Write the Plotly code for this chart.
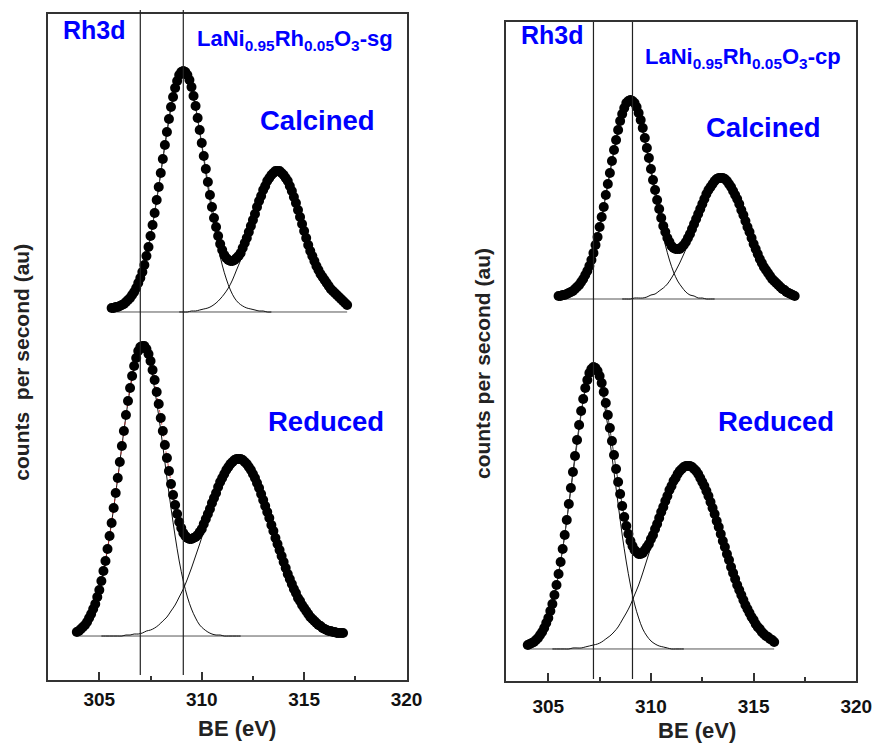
import plotly.graph_objects as go

# ---------------------------------------------------------------------------
# Rh 3d spectra. Each spectrum is stored as its first binding energy (eV) and
# the intensities (counts per second, au) on a uniform energy step.
# ---------------------------------------------------------------------------
DATA_STEP = 0.1   # eV, measured points
FIT_STEP = 0.2    # eV, fitted component curves

# LaNi0.95Rh0.05O3-sg, calcined
sg_calc_be0 = 305.6
sg_calc_counts = [4, 4, 5, 5, 6, 7, 8, 10, 12, 14,
                  17, 20, 24, 29, 34, 40, 47, 56, 65, 76,
                  87, 99, 112, 125, 139, 153, 167, 180, 193, 205,
                  215, 224, 231, 237, 240, 241, 240, 237, 232, 225,
                  216, 206, 194, 182, 169, 156, 143, 130, 117, 105,
                  94, 85, 76, 68, 62, 57, 54, 52, 51, 51,
                  52, 54, 56, 59, 64, 69, 74, 80, 86, 92,
                  98, 105, 111, 116, 122, 126, 131, 134, 137, 139,
                  141, 141, 141, 139, 137, 134, 131, 126, 121, 115,
                  109, 102, 95, 88, 81, 74, 67, 61, 56, 51,
                  46, 42, 38, 35, 32, 29, 26, 23, 21, 19,
                  17, 15, 13, 11, 9, 7]
sg_calc_p1_be0 = 305.6
sg_calc_p1 = [4, 5, 6, 8, 12, 17, 24, 34, 47, 65, 87, 112, 139, 167, 193, 215,
              231, 240, 240, 231, 215, 193, 167, 139, 112, 87, 65, 47, 33, 22,
              14, 9, 6, 4, 3, 2, 1, 1, 0, 0]
sg_calc_p2_be0 = 308.9
sg_calc_p2 = [0, 0, 0, 1, 1, 2, 3, 4, 6, 9, 13, 18, 24, 32, 42, 52, 65, 78, 91,
              104, 116, 126, 134, 139, 141, 139, 134, 126, 115, 102, 88, 74, 61,
              51, 42, 35, 29, 23, 19, 15, 11, 7]

# LaNi0.95Rh0.05O3-sg, reduced
sg_red_be0 = 303.9
sg_red_counts = [4, 5, 7, 9, 11, 14, 18, 22, 27, 32,
                 39, 46, 55, 65, 75, 87, 100, 113, 128, 143,
                 158, 174, 190, 205, 221, 235, 248, 260, 270, 278,
                 285, 289, 290, 290, 287, 282, 275, 266, 256, 244,
                 232, 218, 205, 191, 178, 165, 152, 141, 131, 122,
                 114, 108, 103, 100, 98, 97, 97, 98, 99, 101,
                 104, 107, 112, 117, 122, 127, 133, 138, 143, 149,
                 154, 158, 162, 166, 169, 172, 174, 176, 177, 177,
                 177, 176, 174, 172, 169, 166, 162, 158, 153, 148,
                 142, 136, 130, 124, 118, 111, 105, 98, 92, 86,
                 80, 74, 68, 62, 57, 52, 47, 43, 38, 35,
                 31, 28, 25, 22, 19, 17, 15, 13, 11, 10,
                 8, 7, 6, 5, 5, 4, 4, 3, 3, 3, 3]
sg_red_p1_be0 = 303.9
sg_red_p1 = [4, 7, 11, 18, 27, 39, 55, 75, 100, 128, 158, 190, 220, 247, 269,
             282, 287, 282, 269, 247, 220, 190, 158, 128, 100, 75, 55, 39, 27,
             18, 11, 7, 4, 2, 1, 1, 0, 0, 0, 0, 0]
sg_red_p2_be0 = 305.1
sg_red_p2 = [0, 0, 0, 0, 0, 0, 1, 1, 2, 2, 3, 5, 6, 8, 11, 15, 19, 25, 31, 39,
             47, 57, 68, 80, 92, 105, 118, 130, 142, 153, 162, 169, 174, 177,
             177, 174, 169, 162, 153, 142, 130, 118, 105, 92, 80, 68, 57, 47,
             39, 31, 25, 19, 15, 11, 8, 6, 5, 4, 3, 3]

# LaNi0.95Rh0.05O3-cp, calcined
cp_calc_be0 = 305.5
cp_calc_counts = [3, 3, 4, 4, 5, 6, 7, 8, 10, 12,
                  14, 17, 20, 24, 28, 33, 39, 46, 54, 62,
                  72, 82, 92, 104, 115, 126, 138, 149, 159, 169,
                  178, 185, 191, 196, 198, 199, 198, 196, 192, 186,
                  179, 171, 161, 151, 141, 130, 119, 109, 99, 90,
                  81, 73, 67, 61, 57, 53, 51, 50, 50, 50,
                  52, 54, 57, 61, 65, 70, 75, 80, 85, 90,
                  95, 100, 105, 109, 112, 115, 118, 120, 121, 121,
                  121, 120, 118, 115, 112, 108, 104, 100, 95, 89,
                  84, 78, 72, 67, 61, 55, 50, 45, 40, 36,
                  32, 29, 26, 23, 20, 18, 16, 14, 12, 10,
                  9, 7, 6, 5, 4, 3]
cp_calc_p1_be0 = 305.5
cp_calc_p1 = [3, 4, 5, 7, 10, 14, 20, 28, 39, 54, 72, 92, 115, 138, 159, 178,
              191, 198, 198, 191, 178, 159, 138, 115, 92, 72, 54, 39, 27, 18,
              12, 7, 4, 3, 1, 1, 0, 0, 0]
cp_calc_p2_be0 = 308.6
cp_calc_p2 = [0, 0, 0, 1, 1, 1, 2, 4, 5, 8, 11, 15, 21, 28, 36, 45, 55, 67, 78,
              89, 100, 108, 115, 120, 121, 120, 115, 108, 100, 89, 78, 67, 55,
              45, 36, 28, 23, 18, 14, 10, 7, 5, 3]

# LaNi0.95Rh0.05O3-cp, reduced
cp_red_be0 = 304.0
cp_red_counts = [4, 5, 6, 7, 9, 11, 14, 17, 21, 26,
                 31, 38, 45, 54, 64, 75, 87, 100, 114, 129,
                 145, 161, 177, 193, 209, 224, 238, 250, 261, 269,
                 276, 280, 282, 281, 278, 273, 266, 257, 246, 234,
                 221, 208, 194, 180, 167, 155, 143, 132, 123, 115,
                 108, 103, 99, 97, 95, 95, 96, 99, 102, 105,
                 110, 114, 120, 125, 131, 137, 142, 148, 153, 159,
                 163, 168, 171, 175, 178, 180, 182, 183, 183, 183,
                 182, 180, 178, 175, 171, 167, 163, 158, 153, 147,
                 141, 135, 128, 122, 115, 108, 102, 95, 89, 82,
                 76, 70, 64, 59, 54, 49, 44, 40, 36, 32,
                 29, 25, 22, 20, 17, 15, 13, 12, 10, 9, 7]
cp_red_p1_be0 = 304.0
cp_red_p1 = [4, 5, 8, 13, 20, 31, 45, 64, 87, 114, 145, 177, 208, 236, 259,
             273, 278, 273, 259, 236, 208, 177, 145, 114, 87, 64, 45, 31, 20,
             13, 8, 5, 3, 2, 1, 0, 0, 0, 0]
cp_red_p2_be0 = 305.2
cp_red_p2 = [0, 0, 0, 0, 0, 1, 1, 1, 2, 3, 4, 5, 7, 10, 13, 17, 22, 29, 36,
             44, 54, 64, 76, 89, 102, 115, 128, 141, 153, 163, 171, 178, 182,
             183, 182, 178, 171, 163, 153, 141, 128, 115, 102, 89, 76, 64, 54,
             44, 36, 29, 22, 17, 13, 10, 7]

# Reference binding energies marked by vertical lines (eV)
sg_marks = [307.0, 309.1]
cp_marks = [307.2, 309.1]

# Axis ticks
major_ticks = [305, 310, 315, 320]
minor_ticks = [307.5, 312.5, 317.5]
tick_text = ["305", "310", "315", "320"]

# ---------------------------------------------------------------------------
# Styling / stacking
# ---------------------------------------------------------------------------
FONT = "Liberation Sans, Arial, sans-serif"
BLUE = "#0000FF"
FRAME = "#333333"


def energies(be0, n, step):
    return [round(be0 + i * step, 2) for i in range(n)]


def shifted(vals, off):
    return [v + off for v in vals]


fig = go.Figure()


def add_spectrum(xa, ya, be0, counts, p1_be0, p1, p2_be0, p2, offset,
                 env_color, env_dash):
    be = energies(be0, len(counts), DATA_STEP)
    # linear background between the first and last measured points
    fig.add_trace(go.Scatter(x=[be[0], be[-1]], y=[offset, offset],
                             mode="lines", xaxis=xa, yaxis=ya,
                             line=dict(color="#555555", width=1)))
    for c0, comp in ((p1_be0, p1), (p2_be0, p2)):
        fig.add_trace(go.Scatter(x=energies(c0, len(comp), FIT_STEP),
                                 y=shifted(comp, offset), mode="lines",
                                 xaxis=xa, yaxis=ya, line_shape="spline",
                                 line=dict(color="#111111", width=1)))
    fig.add_trace(go.Scatter(x=be, y=shifted(counts, offset),
                             mode="lines+markers", xaxis=xa, yaxis=ya,
                             line=dict(color=env_color, width=1, dash=env_dash),
                             marker=dict(size=10, color="black")))


# sg panel (left): calcined stacked above reduced
add_spectrum("x", "y", sg_calc_be0, sg_calc_counts, sg_calc_p1_be0, sg_calc_p1,
             sg_calc_p2_be0, sg_calc_p2, 368, "#444444", "solid")
add_spectrum("x", "y", sg_red_be0, sg_red_counts, sg_red_p1_be0, sg_red_p1,
             sg_red_p2_be0, sg_red_p2, 44, "rgba(200,40,40,0.8)", "dot")
# cp panel (right)
add_spectrum("x2", "y2", cp_calc_be0, cp_calc_counts, cp_calc_p1_be0, cp_calc_p1,
             cp_calc_p2_be0, cp_calc_p2, 382, "#444444", "solid")
add_spectrum("x2", "y2", cp_red_be0, cp_red_counts, cp_red_p1_be0, cp_red_p1,
             cp_red_p2_be0, cp_red_p2, 32, "#444444", "solid")

# vertical reference lines
for be in sg_marks:
    fig.add_shape(type="line", xref="x", yref="paper", x0=be, x1=be,
                  y0=0.0927, y1=0.9866, line=dict(color="#222222", width=1.2))
for be in cp_marks:
    fig.add_shape(type="line", xref="x2", yref="paper", x0=be, x1=be,
                  y0=0.0874, y1=0.9704, line=dict(color="#222222", width=1.2))

xcommon = dict(tickvals=major_ticks, ticktext=tick_text, ticks="inside",
               ticklen=8, tickwidth=1.5, tickcolor=FRAME,
               minor=dict(tickvals=minor_ticks, ticks="inside", ticklen=4,
                          tickwidth=1.5, tickcolor=FRAME),
               showline=True, mirror=True, linecolor=FRAME, linewidth=1.5,
               showgrid=False, zeroline=False,
               tickfont=dict(family=FONT, size=19, color="#111111",
                             weight="bold"))
ycommon = dict(showticklabels=False, ticks="", showline=True, mirror=True,
               linecolor=FRAME, linewidth=1.5, showgrid=False, zeroline=False)

fig.update_layout(
    width=888, height=744, margin=dict(l=0, r=0, t=0, b=0),
    paper_bgcolor="white", plot_bgcolor="white", showlegend=False,
    xaxis=dict(domain=[0.0552, 0.4662], range=[302.5, 320], anchor="y",
               ticklabelstandoff=1, **xcommon),
    yaxis=dict(domain=[0.0860, 0.9812], range=[0, 666], anchor="x", **ycommon),
    xaxis2=dict(domain=[0.5805, 0.9820], range=[302.95, 320], anchor="y2",
                ticklabelstandoff=7, **xcommon),
    yaxis2=dict(domain=[0.0847, 0.9704], range=[0, 659], anchor="x2",
                **ycommon),
)


def label(text, x, y, size, color=BLUE, angle=0):
    fig.add_annotation(text=text, x=x, y=y, xref="paper", yref="paper",
                       showarrow=False, xanchor="center", yanchor="middle",
                       textangle=angle,
                       font=dict(family=FONT, size=size, color=color,
                                 weight="bold"))


label("Rh3d", 0.1081, 0.9597, 25)
label("Rh3d", 0.6340, 0.9523, 25)
label("LaNi<sub>0.95</sub>Rh<sub>0.05</sub>O<sub>3</sub>-sg", 0.3378, 0.9462, 22)
label("LaNi<sub>0.95</sub>Rh<sub>0.05</sub>O<sub>3</sub>-cp", 0.8518, 0.9220, 22)
label("Calcined", 0.3645, 0.8374, 27.5)
label("Calcined", 0.8756, 0.8280, 27.5)
label("Reduced", 0.3742, 0.4341, 27.5)
label("Reduced", 0.8896, 0.4328, 27.5)
label("BE (eV)", 0.2720, 0.0215, 22, color="#222222")
label("BE (eV)", 0.7992, 0.0175, 22, color="#222222")
label("counts  per second (au)", 0.0237, 0.5134, 21, color="#222222", angle=-90)
label("counts per second (au)", 0.5540, 0.5108, 21, color="#222222", angle=-90)

fig.write_html("out.html")
